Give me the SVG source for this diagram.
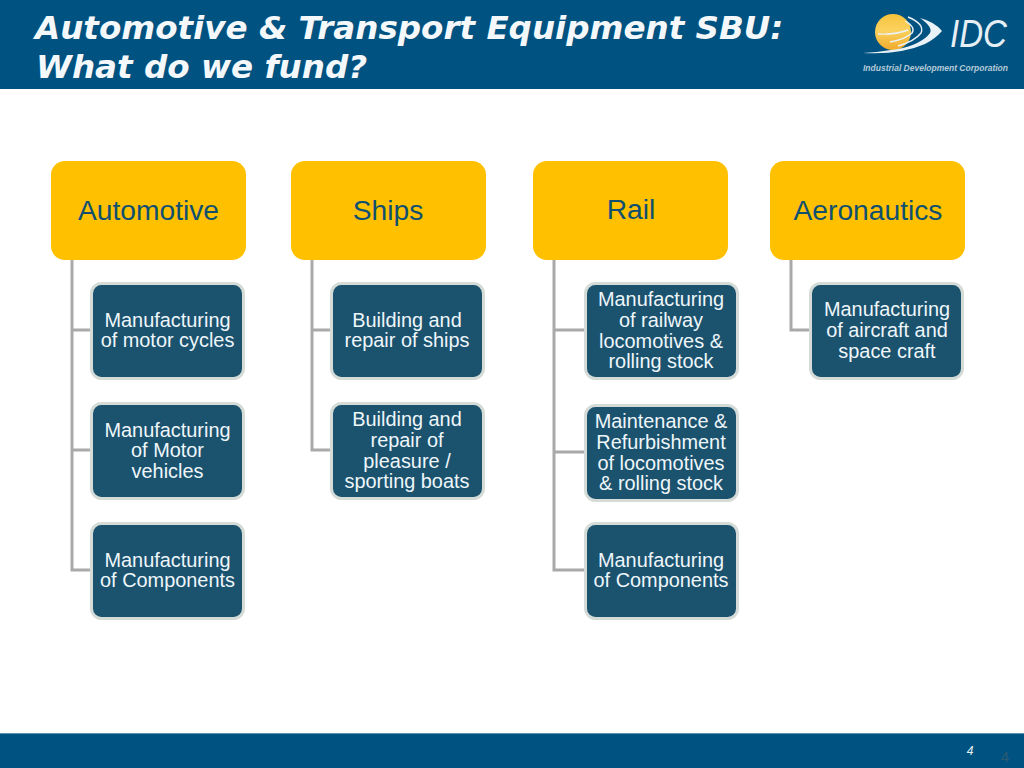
<svg xmlns="http://www.w3.org/2000/svg" width="1024" height="768" viewBox="0 0 1024 768">
<style>
.t{font-family:"Liberation Sans",Arial,sans-serif;text-anchor:middle}
.h{font-size:28.2px;fill:#0f5070}
.c{font-size:19.9px;fill:#eef6fa}
.b{fill:#ffc000}
.n{fill:#1b526e;stroke:#d5dcd8;stroke-width:3}
.l{fill:none;stroke:#a9a9a9;stroke-width:3}
.title{font-family:"DejaVu Sans",Verdana,sans-serif;font-size:32.55px;font-weight:bold;font-style:italic;fill:#f4f8fb}
</style>
<defs>
<linearGradient id="sun" x1="0" y1="0" x2="0" y2="1"><stop offset="0" stop-color="#f6c23c"/><stop offset=".45" stop-color="#fbd25e"/><stop offset="1" stop-color="#f0ab2c"/></linearGradient>
</defs>
<rect width="1024" height="768" fill="#fff"/>
<rect id="header" width="1024" height="89" fill="#005280"/>
<rect id="footer" y="733" width="1024" height="35" fill="#005280"/>
<rect y="733" width="1024" height="1" fill="#5c93b0"/>
<text class="title" x="35" y="39">Automotive &amp; Transport Equipment SBU:</text>
<text class="title" x="36" y="78">What do we fund?</text>
<g id="logo">
<circle cx="893" cy="32" r="18" fill="url(#sun)"/>
<path d="M863 53Q900 55 925 44Q935 39 942 31Q935 22 920 18Q933 27 930 33Q922 44 898 49Q880 52 863 53Z" fill="#eaf2f7"/>
<path d="M908 17Q925 24 921 33Q915 41 898 46M905 21Q916 27 912 33Q906 39 890 42M878 34Q895 35 908 30" fill="none" stroke="#eaf2f7" stroke-width="1.4"/>
<text x="950" y="47" font-family="'Liberation Sans',sans-serif" font-size="38" font-style="italic" fill="#e6eff5" textLength="57" lengthAdjust="spacingAndGlyphs">IDC</text>
<text x="863" y="71" font-family="'Liberation Sans',sans-serif" font-size="8.6" font-weight="bold" font-style="italic" fill="#b4cad8" textLength="145" lengthAdjust="spacingAndGlyphs">Industrial Development Corporation</text>
</g>
<g id="connectors">
<path class="l" d="M72 260V570H91M72 330H91M72 450H91"/>
<path class="l" d="M312 260V450H331M312 330H331"/>
<path class="l" d="M554 260V570H585M554 330H585M554 452H585"/>
<path class="l" d="M791 260V330H810"/>
</g>
<g id="n-automotive"><rect class="b" x="51" y="161" width="195" height="99" rx="14"/><text class="t h" x="148.500" y="219.500">Automotive</text></g>
<g id="n-ships"><rect class="b" x="291" y="161" width="195" height="99" rx="14"/><text class="t h" x="388" y="219.500">Ships</text></g>
<g id="n-rail"><rect class="b" x="533" y="161" width="195" height="99" rx="14"/><text class="t h" x="631" y="219">Rail</text></g>
<g id="n-aero"><rect class="b" x="770" y="161" width="195" height="99" rx="14"/><text class="t h" x="868" y="219.500">Aeronautics</text></g>
<g id="n-a1"><rect class="n" x="91.500" y="283.500" width="152" height="95" rx="10"/><text class="t c"><tspan x="167.500" y="327">Manufacturing</tspan><tspan x="167.500" y="347">of motor cycles</tspan></text></g>
<g id="n-a2"><rect class="n" x="91.500" y="403.500" width="152" height="95" rx="10"/><text class="t c"><tspan x="167.500" y="437">Manufacturing</tspan><tspan x="167.500" y="457">of Motor</tspan><tspan x="167.500" y="478">vehicles</tspan></text></g>
<g id="n-a3"><rect class="n" x="91.500" y="523.500" width="152" height="95" rx="10"/><text class="t c"><tspan x="167.500" y="567">Manufacturing</tspan><tspan x="167.500" y="587">of Components</tspan></text></g>
<g id="n-s1"><rect class="n" x="331.500" y="283.500" width="152" height="95" rx="10"/><text class="t c"><tspan x="407" y="327">Building and</tspan><tspan x="407" y="347">repair of ships</tspan></text></g>
<g id="n-s2"><rect class="n" x="331.500" y="403.500" width="152" height="95" rx="10"/><text class="t c"><tspan x="407" y="426">Building and</tspan><tspan x="407" y="447">repair of</tspan><tspan x="407" y="467.500">pleasure /</tspan><tspan x="407" y="488">sporting boats</tspan></text></g>
<g id="n-r1"><rect class="n" x="585.500" y="283.500" width="152" height="95" rx="10"/><text class="t c"><tspan x="661" y="306">Manufacturing</tspan><tspan x="661" y="327">of railway</tspan><tspan x="661" y="347.500">locomotives &amp;</tspan><tspan x="661" y="368">rolling stock</tspan></text></g>
<g id="n-r2"><rect class="n" x="585.500" y="405.500" width="152" height="95" rx="10"/><text class="t c"><tspan x="661" y="428">Maintenance &amp;</tspan><tspan x="661" y="449">Refurbishment</tspan><tspan x="661" y="469.500">of locomotives</tspan><tspan x="661" y="490">&amp; rolling stock</tspan></text></g>
<g id="n-r3"><rect class="n" x="585.500" y="523.500" width="152" height="95" rx="10"/><text class="t c"><tspan x="661" y="567">Manufacturing</tspan><tspan x="661" y="587">of Components</tspan></text></g>
<g id="n-ae1"><rect class="n" x="810.500" y="283.500" width="152" height="95" rx="10"/><text class="t c"><tspan x="887" y="316">Manufacturing</tspan><tspan x="887" y="337">of aircraft and</tspan><tspan x="887" y="358">space craft</tspan></text></g>
<text x="970" y="755" font-family="'Liberation Sans',sans-serif" font-size="12" font-style="italic" fill="#e8f1f6" text-anchor="middle">4</text>
<text x="1005" y="762" font-family="'Liberation Sans',sans-serif" font-size="15" fill="#2b5a74" text-anchor="middle">4</text>
</svg>
